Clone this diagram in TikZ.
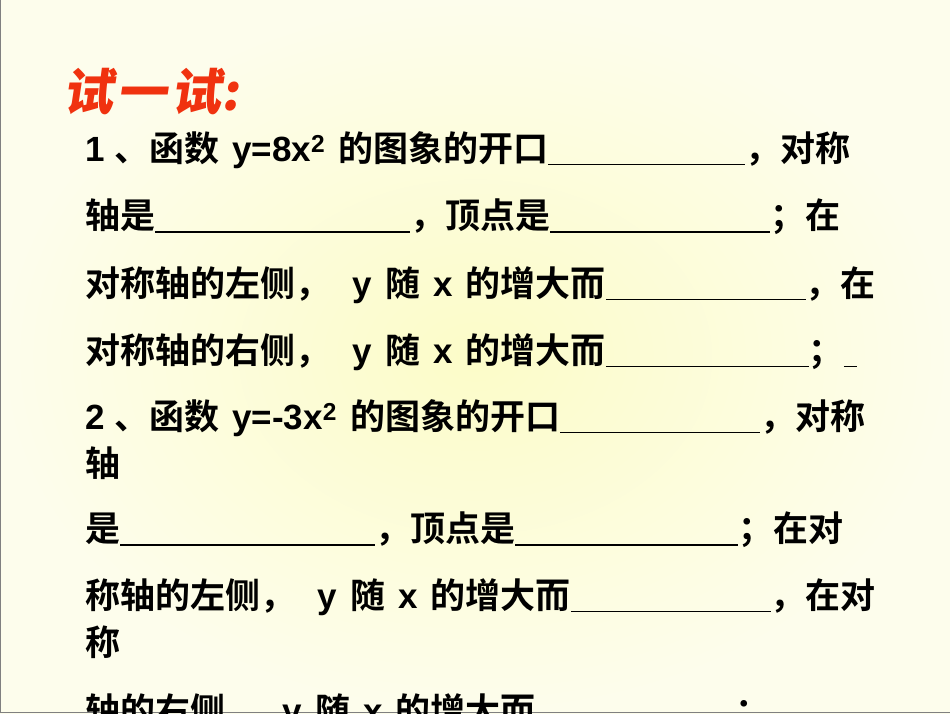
\documentclass[tikz,border=0pt]{standalone}
\usepackage{fontspec}
\setmainfont{Noto Sans CJK SC Bold}
\newfontfamily\lat{Liberation Sans}[BoldFont={Liberation Sans Bold}]
\newfontfamily\ttl{Noto Sans CJK SC Black}
\newcommand{\bl}[1]{\rule[-4pt]{#1pt}{1.6pt}}
\newcommand{\LL}[1]{{\lat\bfseries #1}}
\newcommand{\VV}[1]{\hspace{13pt}{\lat\bfseries #1}\hspace{13pt}}
\begin{document}
\begin{tikzpicture}[x=1pt,y=-1pt,
  ln/.style={anchor=west,inner sep=0pt,font=\fontsize{35}{35}\selectfont}]
\useasboundingbox (0,0) rectangle (950,713);
\fill[inner color={rgb,255:red,252;green,252;blue,200},outer color={rgb,255:red,253;green,253;blue,236}] (0,0) rectangle (950,713);
\draw[gray,line width=1.5pt] (0.7,0) -- (0.7,712.3) -- (950,712.3);
\node[anchor=west,inner sep=0pt,text={rgb,255:red,240;green,50;blue,15},font=\ttl\fontsize{50}{50}\selectfont,xslant=0.15] (t) at (66,92) {试\hspace{4pt}一\hspace{4pt}试:};
\node[ln] (l1) at (85,150) {\LL{1 }、函数\VV{y=8x\textsuperscript{2}}的图象的开口\bl{197}，对称};
\node[ln] (l2) at (85,217) {轴是\bl{255}，顶点是\bl{220}；在};
\node[ln] (l3) at (85,285) {对称轴的左侧，\VV{ y}随\VV{x}的增大而\bl{200}，在};
\node[ln] (l4) at (85,352) {对称轴的右侧，\VV{ y}随\VV{x}的增大而\bl{203}；\bl{13}};
\node[ln] (l5) at (85,418) {\LL{2 }、函数\VV{y=-3x\textsuperscript{2}}的图象的开口\bl{200}，对称};
\node[ln] (l6) at (85,463) {轴};
\node[ln] (l7) at (85,530) {是\bl{255}，顶点是\bl{223}；在对};
\node[ln] (l8) at (85,597) {称轴的左侧，\VV{ y}随\VV{x}的增大而\bl{200}，在对};
\node[ln] (l9) at (85,642) {称};
\node[ln] (l10) at (85,712) {轴的右侧，\VV{ y}随\VV{x}的增大而\bl{200}；};
\end{tikzpicture}
\end{document}
